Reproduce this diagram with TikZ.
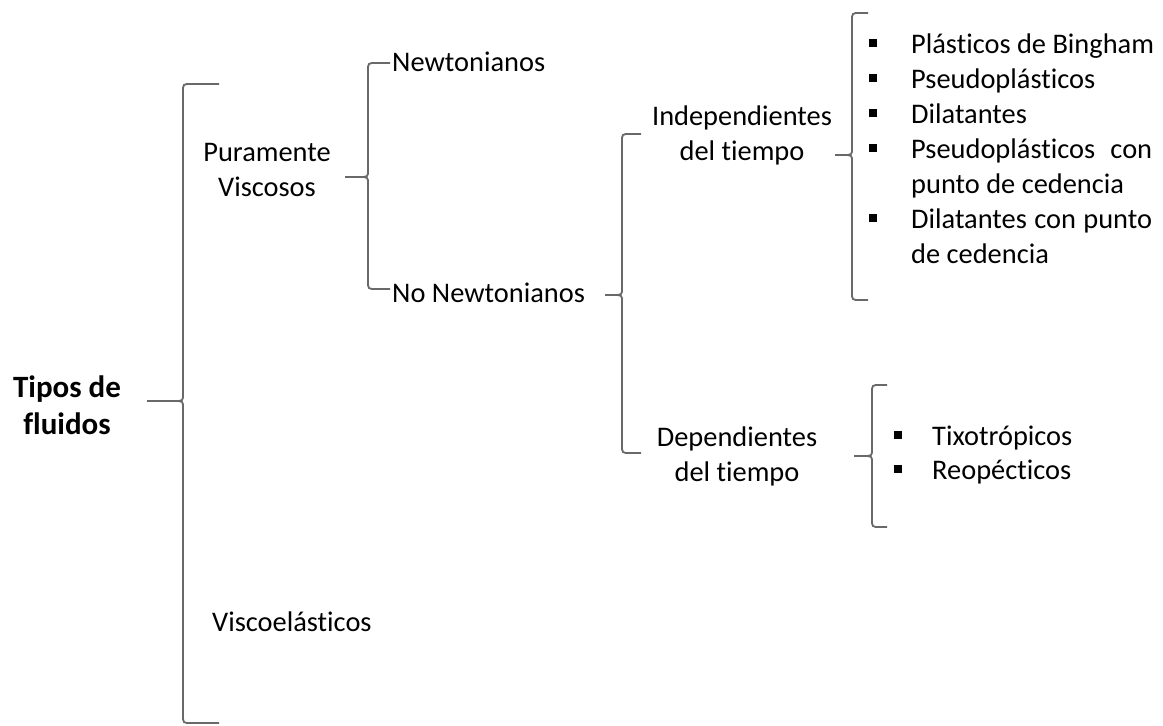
\documentclass[tikz,border=0pt]{standalone}
\usepackage{fontspec}
\setmainfont{Carlito}[Ligatures=NoCommon]
\usepackage{xcolor}
\usetikzlibrary{positioning}
\definecolor{bracegray}{RGB}{105,105,105}
\tikzset{
  lbl/.style   = {inner sep=0pt, font=\fontsize{28.4}{35}\selectfont, align=center},
  ttl/.style   = {inner sep=0pt, font=\fontsize{31}{37}\selectfont\bfseries, align=center},
  itemln/.style = {inner sep=0pt, anchor=base west, font=\fontsize{28.4}{35}\selectfont},
  brace/.style = {draw=bracegray, line width=1.8pt},
}
\newcommand{\sqbul}{\rule[6pt]{8pt}{8pt}}
% brace: vertical x, top y, tip y, bottom y, tip x, end x
\newcommand{\wbrace}[6]{%
  \draw[brace] (#6,#2) -- (#1+8,#2) .. controls (#1,#2) .. (#1,#2+8)
    -- (#1,#3-7) .. controls (#1,#3) .. (#1-9,#3) -- (#5,#3);
  \draw[brace] (#1-9,#3) .. controls (#1,#3) .. (#1,#3+7)
    -- (#1,#4-8) .. controls (#1,#4) .. (#1+8,#4) -- (#6,#4);
}

\begin{document}
\begin{tikzpicture}[x=1pt, y=-1pt]
  \useasboundingbox (0,0) rectangle (1163,726);

  % levels of the classification
  \node[ttl] (tipos) at (67,405) {Tipos de\\fluidos};
  \node[lbl] (pura) at (267,170) {Puramente\\Viscosos};
  \node[lbl, anchor=west] (visco) at (212,622) {Viscoelásticos};
  \node[lbl, anchor=west] (newt) at (392,62) {Newtonianos};
  \node[lbl, anchor=west] (nonewt) at (392,293) {No Newtonianos};
  \node[lbl] (indep) at (742,135) {Independientes\\del tiempo};
  \node[lbl] (dep) at (737,456) {Dependientes\\del tiempo};

  % braces
  \wbrace{183}{84}{401}{723}{147}{219}
  \wbrace{368}{63}{177}{289}{345}{390}
  \wbrace{622}{134}{295}{453}{605}{641}
  \wbrace{852}{13}{155}{300}{835}{868}
  \wbrace{872}{385}{456}{527}{854}{887}

  % time independent fluids
  \foreach \k/\txt in {
      0/{\makebox[42pt][l]{\sqbul}Plásticos de Bingham},
      1/{\makebox[42pt][l]{\sqbul}Pseudoplásticos},
      2/{\makebox[42pt][l]{\sqbul}Dilatantes},
      3/{\makebox[42pt][l]{\sqbul}\makebox[241pt][s]{Pseudoplásticos con}},
      4/{\hspace*{42pt}punto de cedencia},
      5/{\makebox[42pt][l]{\sqbul}\makebox[241pt][s]{Dilatantes con punto}},
      6/{\hspace*{42pt}de cedencia}}{
    \node[itemln] (ind\k) at (869,53+35*\k) {\txt};
  }

  % time dependent fluids
  \node[itemln] (dep0) at (894,445) {\makebox[38pt][l]{\sqbul}Tixotrópicos};
  \node[itemln] (dep1) at (894,479) {\makebox[38pt][l]{\sqbul}Reopécticos};
\end{tikzpicture}
\end{document}
